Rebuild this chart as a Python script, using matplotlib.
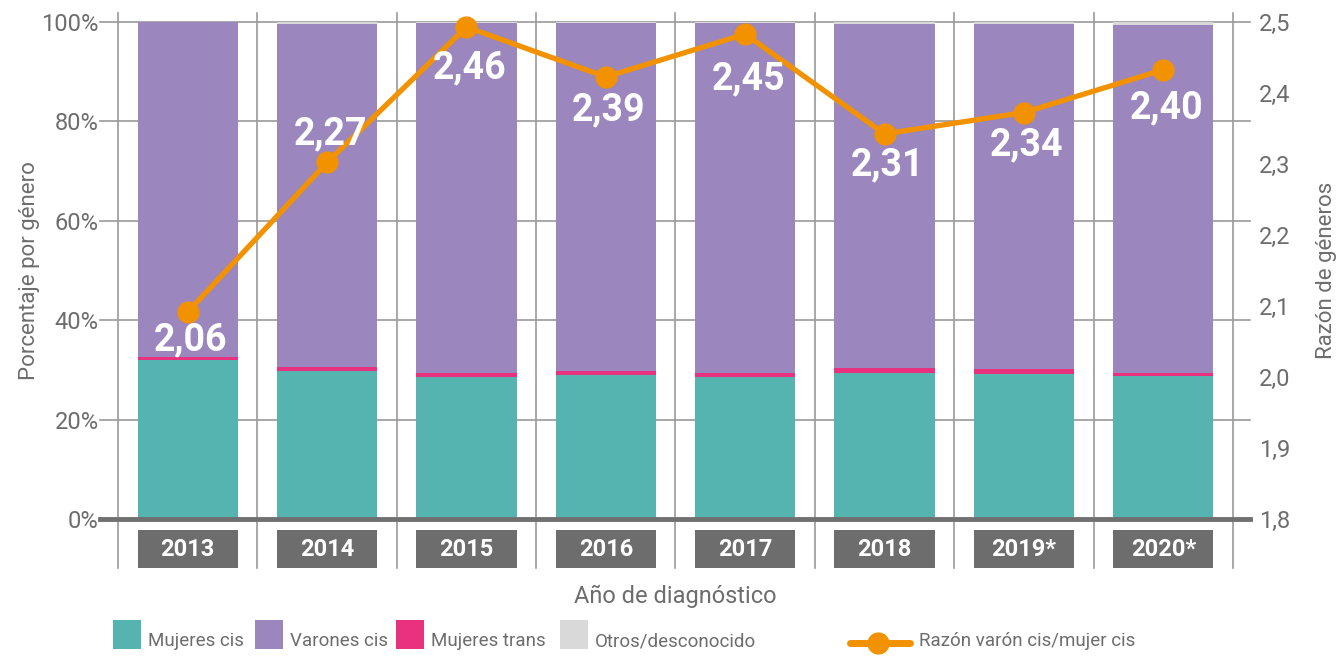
import matplotlib.pyplot as plt
from matplotlib.patches import Rectangle
from matplotlib.lines import Line2D
import matplotlib.transforms as mtransforms
import numpy as np

plt.rcParams['font.family'] = ['Roboto', 'DejaVu Sans']

years = ['2013', '2014', '2015', '2016', '2017', '2018', '2019*', '2020*']
mujeres_cis = [32.0, 29.8, 28.5, 29.0, 28.6, 29.4, 29.2, 28.8]
mujeres_trans = [0.6, 0.8, 0.9, 0.8, 0.8, 1.0, 1.0, 0.6]
otros = [0.0, 0.3, 0.2, 0.2, 0.2, 0.5, 0.5, 0.6]
varones_cis = [100 - a - b - c for a, b, c in zip(mujeres_cis, mujeres_trans, otros)]
razon = [2.06, 2.27, 2.46, 2.39, 2.45, 2.31, 2.34, 2.40]
# vertical pixel offset of each value label from its point (negative = below)
label_off = [-28, 29, -41, -33, -45, -31, -32, -38]

TEAL = '#56b4b0'
PURPLE = '#9b87bd'
PINK = '#e8327f'
GREY = '#d9d9d9'
ORANGE = '#f39200'
TXT = '#6d6d6d'
LINE = '#9a9a9a'

fig = plt.figure(figsize=(13.4, 6.57), dpi=100)
ax = fig.add_axes([0.0881, 0.21, 0.8320, 0.7565])
x = np.arange(len(years))
w = 0.72

b1 = np.array(mujeres_cis)
b2 = b1 + np.array(mujeres_trans)
b3 = b2 + np.array(varones_cis)
ax.bar(x, mujeres_cis, w, color=TEAL, zorder=3)
ax.bar(x, mujeres_trans, w, bottom=b1, color=PINK, zorder=3)
ax.bar(x, varones_cis, w, bottom=b2, color=PURPLE, zorder=3)
ax.bar(x, otros, w, bottom=b3, color=GREY, zorder=3)

ax.set_xlim(-0.5, len(years) - 0.5)
ax.set_ylim(0, 100)
for s in ax.spines.values():
    s.set_visible(False)

# horizontal gridlines extending past the axes
tr_h = mtransforms.blended_transform_factory(ax.transAxes, ax.transData)
for v in range(20, 101, 20):
    ax.add_line(Line2D([-0.016, 1.015], [v, v], transform=tr_h, color=LINE, lw=1.2,
                       zorder=1, clip_on=False))
ax.add_line(Line2D([-0.016, 1.015], [0, 0], transform=tr_h, color='#707070', lw=3.5,
                   zorder=4, clip_on=False))

# vertical separators
tr_v = mtransforms.blended_transform_factory(ax.transData, ax.transAxes)
for k in range(len(years) + 1):
    ax.add_line(Line2D([k - 0.5, k - 0.5], [-0.0986, 1.018], transform=tr_v, color=LINE,
                       lw=1.2, zorder=1, clip_on=False))

# year boxes
for i, yr in enumerate(years):
    ax.add_patch(Rectangle((i - w / 2, -0.0986), w, 0.0766, transform=tr_v,
                           facecolor='#6d6d6d', edgecolor='none', clip_on=False))
    ax.text(i, -0.0603, yr, transform=tr_v, ha='center', va='center', color='white',
            fontsize=17, fontweight='bold')

ax.set_xticks([])
ax.set_yticks(range(0, 101, 20))
ax.set_yticklabels([f'{v}%' for v in range(0, 101, 20)])
ax.tick_params(axis='y', length=0, pad=14, labelsize=17, labelcolor=TXT)
ax.set_ylabel('Porcentaje por género', fontsize=16, color=TXT, labelpad=1)
ax.text(0.5, -0.155, 'Año de diagnóstico', transform=ax.transAxes, ha='center', va='center',
        fontsize=17, color=TXT)

ax2 = ax.twinx()
for s in ax2.spines.values():
    s.set_visible(False)
ax2.set_ylim(1.7695, 2.467)
ax2.set_yticks(np.linspace(1.7695, 2.467, 8))
ax2.set_yticklabels(['1,8', '1,9', '2,0', '2,1', '2,2', '2,3', '2,4', '2,5'])
ax2.tick_params(axis='y', length=0, pad=19, labelsize=17, labelcolor=TXT)
ax2.set_ylabel('Razón de géneros', fontsize=16, color=TXT, labelpad=18)
ax2.plot(x, razon, color=ORANGE, lw=3.8, marker='o', ms=15, zorder=5, clip_on=False)
for i, v in enumerate(razon):
    ax2.annotate(f'{v:.2f}'.replace('.', ','), (i, v), xytext=(3, label_off[i]),
                 textcoords='offset pixels', ha='center', va='center', color='white',
                 fontsize=27, fontweight='bold', zorder=6)

# legend, laid out by hand
items = [('patch', TEAL, 'Mujeres cis', 113),
         ('patch', PURPLE, 'Varones cis', 255),
         ('patch', PINK, 'Mujeres trans', 396),
         ('patch', GREY, 'Otros/desconocido', 560),
         ('line', ORANGE, 'Razón varón cis/mujer cis', 850)]
W, H = 1340.0, 657.0
for kind, col, lab, px in items:
    if kind == 'patch':
        fig.patches.append(Rectangle((px / W, 1 - 649 / H), 28 / W, 29 / H, transform=fig.transFigure,
                                     facecolor=col, edgecolor='none'))
        tx = px + 35
    else:
        fig.lines.append(Line2D([px / W, (px + 60) / W], [1 - 643 / H, 1 - 643 / H],
                                transform=fig.transFigure, color=col, lw=5, solid_capstyle='round'))
        fig.lines.append(Line2D([(px + 28) / W], [1 - 643 / H], transform=fig.transFigure,
                                color=col, marker='o', ms=15))
        tx = px + 69
    fig.text(tx / W, 1 - 641 / H, lab, ha='left', va='center', fontsize=13.5, color=TXT)

fig.savefig('out.png', dpi=100)
